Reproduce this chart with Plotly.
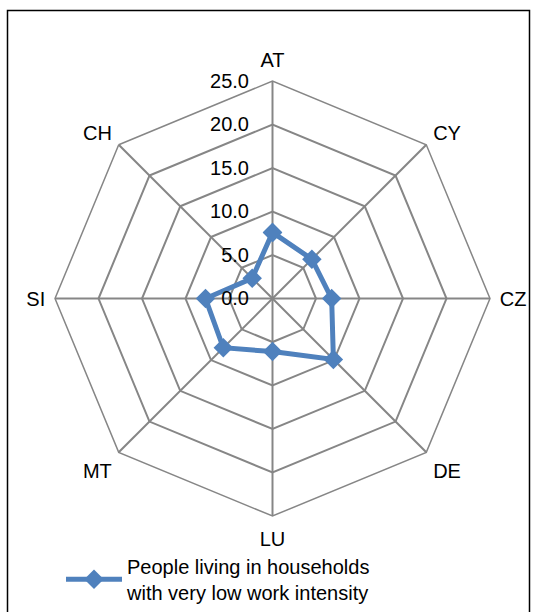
import plotly.graph_objects as go

countries = ["AT", "CY", "CZ", "DE", "LU", "MT", "SI", "CH"]
values = [7.6, 6.4, 6.8, 9.9, 6.1, 8.0, 7.7, 3.3]
radial_ticks = [0, 5, 10, 15, 20, 25]
series_name = "People living in households<br>with very low work intensity"

W, H = 534, 612
blue = "#4F81BD"
grid = "#868686"

fig = go.Figure()
fig.add_trace(go.Scatterpolar(
    r=values + values[:1],
    theta=countries + countries[:1],
    mode="lines+markers",
    name=series_name,
    line=dict(color=blue, width=5),
    marker=dict(symbol="diamond", size=15, color=blue),
    showlegend=True,
))

fig.update_layout(
    width=W, height=H,
    margin=dict(l=0, r=0, t=0, b=0),
    paper_bgcolor="white",
    font=dict(family="Liberation Sans, Arial", size=20, color="black"),
    polar=dict(
        domain=dict(x=[52.5 / W, 492.5 / W], y=[90 / H, 530 / H]),
        gridshape="linear",
        bgcolor="white",
        angularaxis=dict(
            direction="clockwise",
            rotation=90,
            categoryorder="array",
            categoryarray=countries,
            showline=True,
            linecolor=grid,
            linewidth=1.5,
            gridcolor=grid,
            gridwidth=1.5,
            ticks="outside",
            ticklen=5,
            tickcolor="rgba(0,0,0,0)",
            tickfont=dict(size=20, color="black"),
        ),
        radialaxis=dict(
            range=[0, 25],
            tickvals=radial_ticks,
            ticktext=[f"{v:.1f}" for v in radial_ticks],
            angle=90,
            tickangle=90,
            side="counterclockwise",
            showline=False,
            gridcolor=grid,
            gridwidth=1.5,
            ticks="outside",
            ticklen=16,
            tickcolor="rgba(0,0,0,0)",
            tickfont=dict(size=20, color="black"),
        ),
    ),
    legend=dict(
        orientation="h",
        x=61 / W, xanchor="left",
        y=1 - 553 / H, yanchor="top",
        font=dict(size=20, color="black"),
        itemwidth=56,
        bgcolor="rgba(0,0,0,0)",
    ),
    shapes=[dict(
        type="rect", xref="paper", yref="paper",
        x0=7.5 / W, x1=529.5 / W, y0=-0.02, y1=1 - 10.5 / H,
        line=dict(color="black", width=1.5),
    )],
)

fig.write_html("out.html")
